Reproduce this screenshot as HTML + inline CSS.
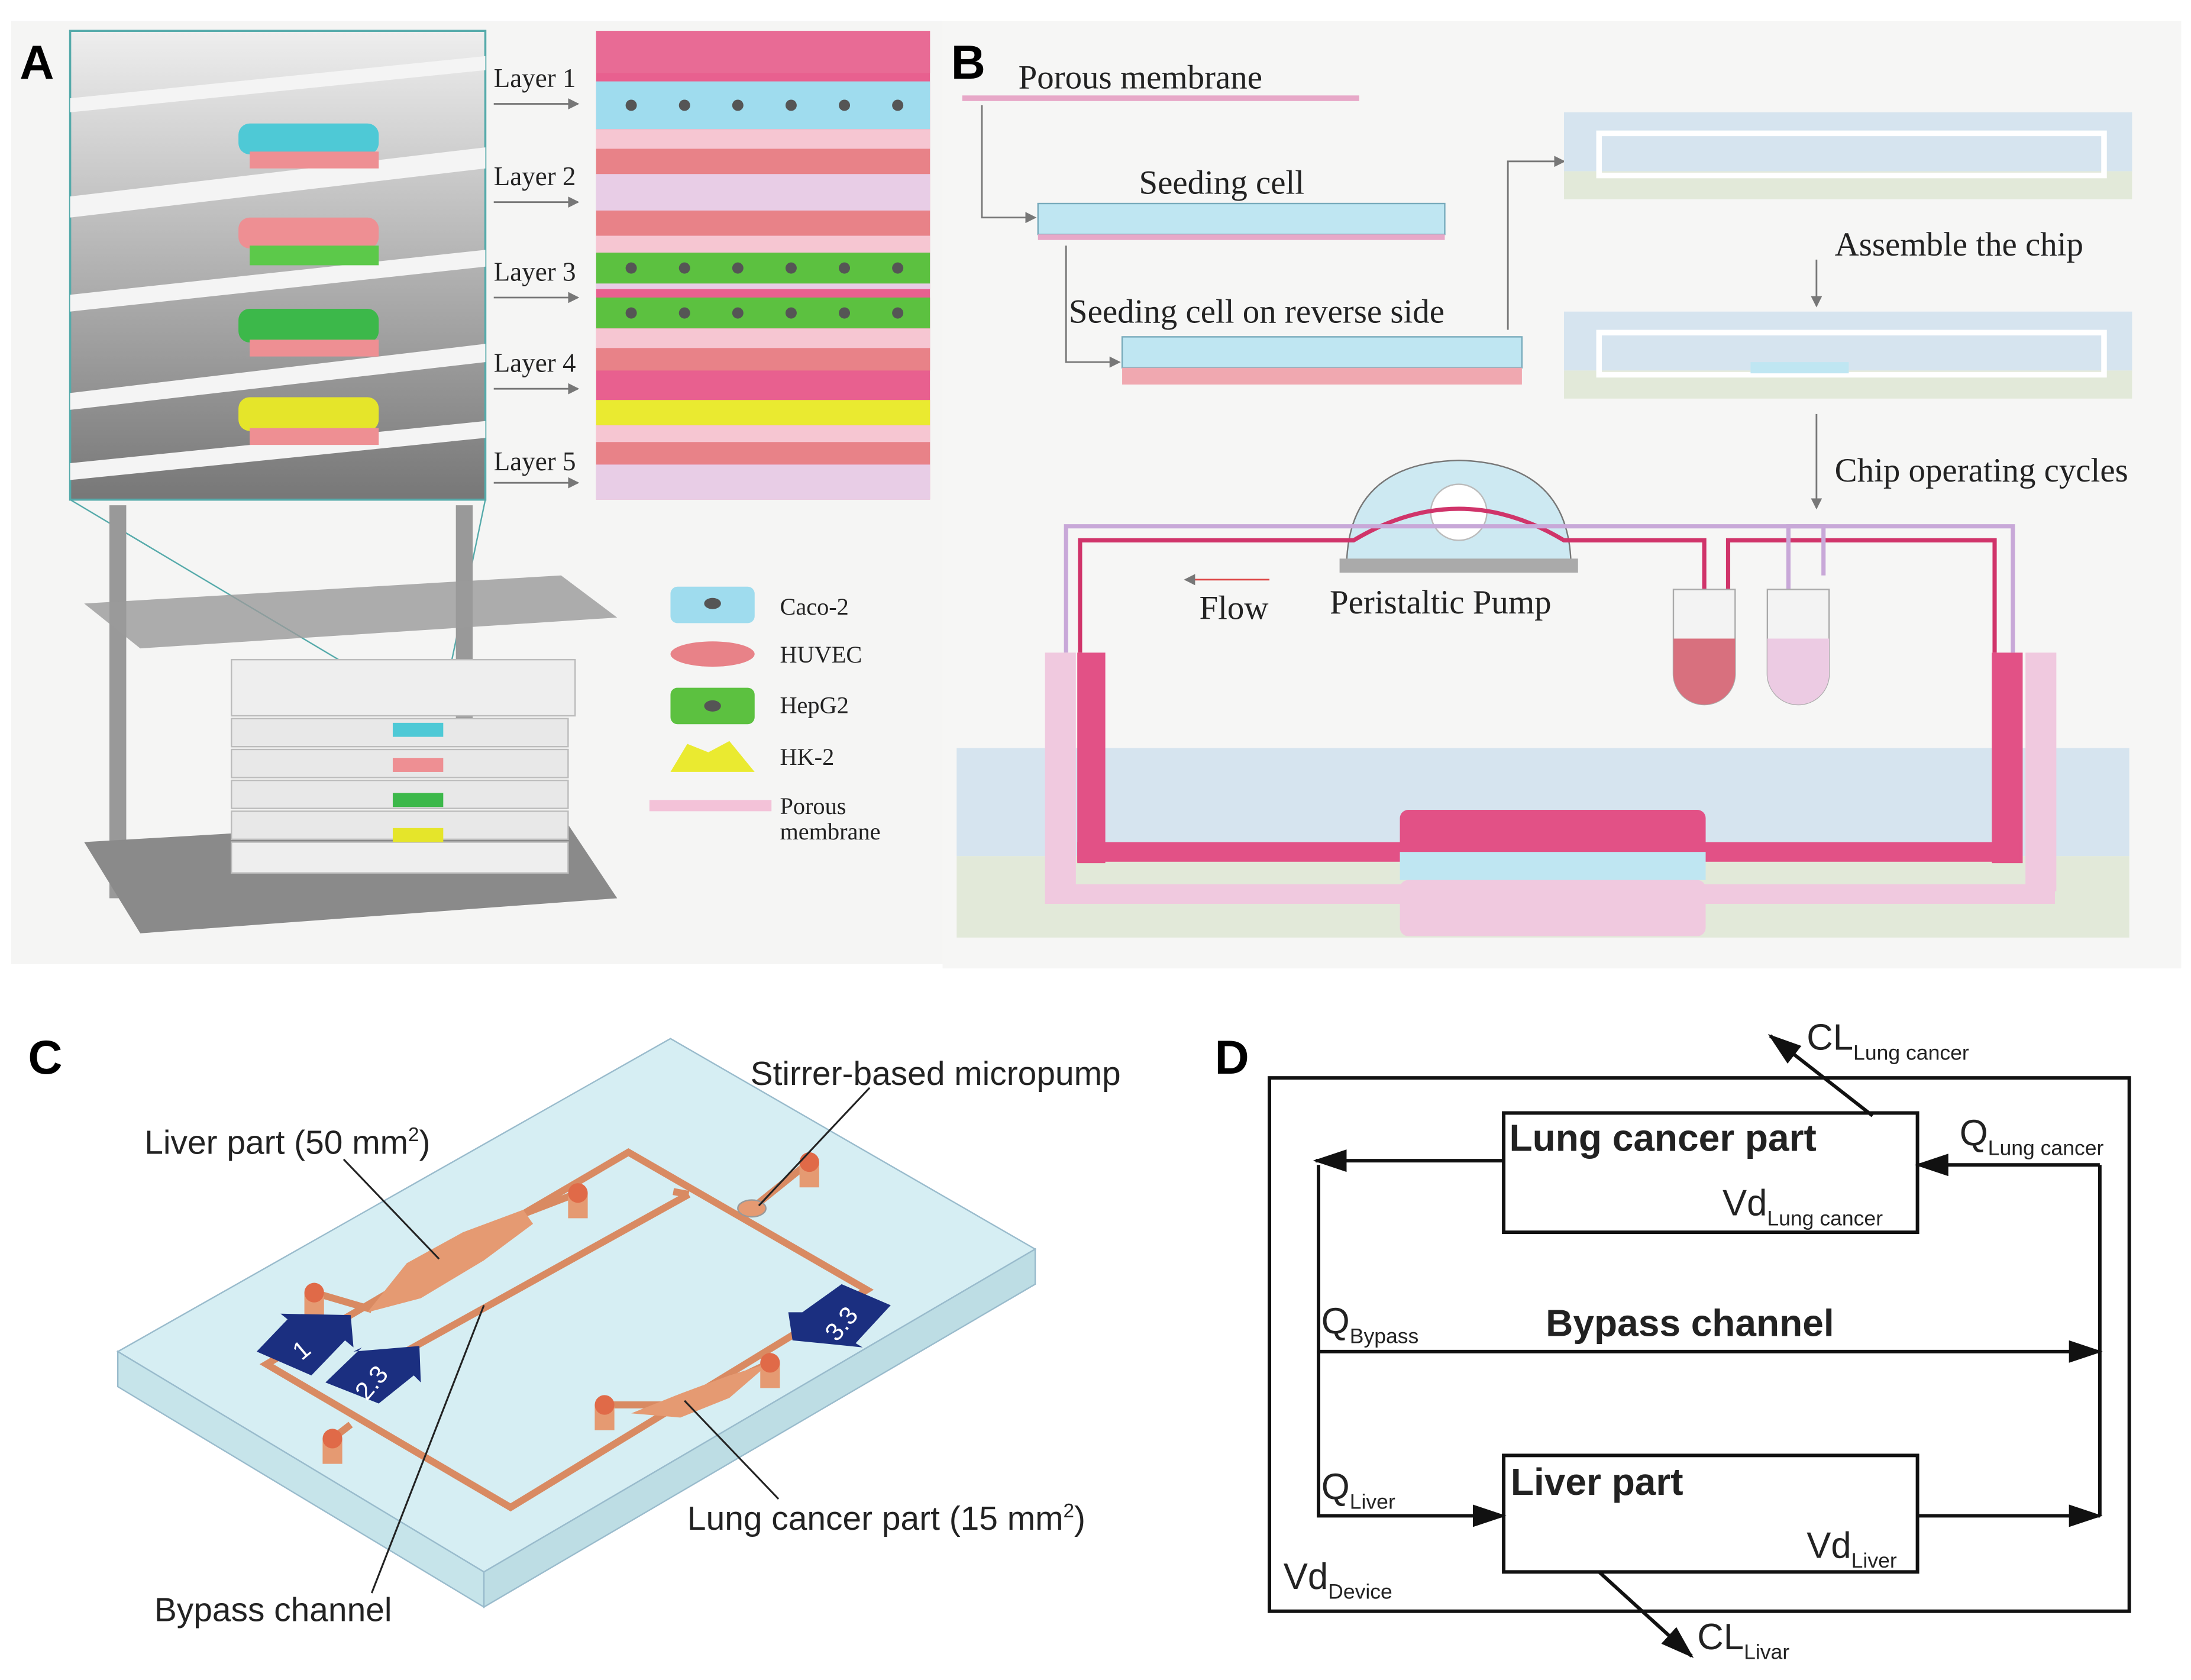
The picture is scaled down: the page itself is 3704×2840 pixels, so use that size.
<!DOCTYPE html>
<html><head><meta charset="utf-8"><style>
html,body{margin:0;padding:0;background:#fff;}
svg{display:block;}
.t{font-family:"Liberation Serif",serif;fill:#222;}
.s{font-family:"Liberation Sans",sans-serif;fill:#222;}
</style></head><body>
<svg width="3704" height="2840" viewBox="0 0 1562 1197" preserveAspectRatio="none" xmlns="http://www.w3.org/2000/svg">
<defs>
<marker id="ah" markerWidth="8" markerHeight="8" refX="7" refY="4" orient="auto" markerUnits="userSpaceOnUse"><path d="M0,0 L8,4 L0,8 z" fill="#777"/></marker>
<marker id="bh" markerWidth="24" markerHeight="16" refX="22" refY="8" orient="auto" markerUnits="userSpaceOnUse"><path d="M0,0 L24,8 L0,16 z" fill="#111"/></marker>
<linearGradient id="gr" x1="0" y1="0" x2="0" y2="1"><stop offset="0" stop-color="#eee"/><stop offset="1" stop-color="#777"/></linearGradient>
</defs>
<rect width="1562" height="1197" fill="#fff"/>
<!-- Panel A -->
<rect x="8" y="15" width="664" height="672" fill="#f5f5f4"/>
<text x="14" y="56" font-family="Liberation Sans" font-weight="bold" font-size="34" fill="#000">A</text>
<rect x="50" y="22" width="296" height="334" fill="url(#gr)" stroke="#5aa" stroke-width="1.5"/>
<g fill="#f4f4f4">
<polygon points="50,70 346,40 346,50 50,80"/>
<polygon points="50,140 346,105 346,120 50,155"/>
<polygon points="50,210 346,178 346,190 50,222"/>
<polygon points="50,280 346,245 346,258 50,292"/>
<polygon points="50,330 346,300 346,312 50,342"/>
</g>
<rect x="170" y="88" width="100" height="22" rx="8" fill="#4ec9d6"/><rect x="178" y="108" width="92" height="12" fill="#ee8f93"/>
<rect x="170" y="155" width="100" height="22" rx="8" fill="#ee8f93"/><rect x="178" y="175" width="92" height="14" fill="#5cc94a"/>
<rect x="170" y="220" width="100" height="24" rx="8" fill="#3cb84a"/><rect x="178" y="242" width="92" height="12" fill="#ee8f93"/>
<rect x="170" y="283" width="100" height="24" rx="8" fill="#e5e52a"/><rect x="178" y="305" width="92" height="12" fill="#ee8f93"/>
<g class="t" font-size="19">
<text x="352" y="62">Layer 1</text><text x="352" y="132">Layer 2</text><text x="352" y="200">Layer 3</text><text x="352" y="265">Layer 4</text><text x="352" y="335">Layer 5</text>
</g>
<g stroke="#777" stroke-width="1.2" marker-end="url(#ah)">
<line x1="352" y1="74" x2="412" y2="74"/><line x1="352" y1="144" x2="412" y2="144"/><line x1="352" y1="212" x2="412" y2="212"/><line x1="352" y1="277" x2="412" y2="277"/><line x1="352" y1="344" x2="412" y2="344"/>
</g>
<rect x="425" y="22" width="238" height="334" fill="#e8608f"/>
<rect x="425" y="22" width="238" height="30" fill="#e86b95"/>
<rect x="425" y="58" width="238" height="34" fill="#9fdcee"/>
<rect x="425" y="92" width="238" height="14" fill="#f6c6d2"/>
<rect x="425" y="106" width="238" height="100" fill="#e8cde6"/>
<rect x="425" y="106" width="238" height="18" fill="#e88288"/>
<rect x="425" y="150" width="238" height="18" fill="#e88288"/>
<rect x="425" y="168" width="238" height="12" fill="#f6c6d2"/>
<rect x="425" y="180" width="238" height="22" fill="#5cc140"/>
<rect x="425" y="212" width="238" height="22" fill="#5cc140"/>
<rect x="425" y="234" width="238" height="14" fill="#f6c6d2"/>
<rect x="425" y="248" width="238" height="16" fill="#e88288"/>
<rect x="425" y="285" width="238" height="18" fill="#eaea30"/>
<rect x="425" y="303" width="238" height="12" fill="#f6c6d2"/>
<rect x="425" y="315" width="238" height="16" fill="#e88288"/>
<rect x="425" y="331" width="238" height="25" fill="#e8cde6"/>
<g fill="#555">
<circle cx="450" cy="75" r="4"/><circle cx="488" cy="75" r="4"/><circle cx="526" cy="75" r="4"/><circle cx="564" cy="75" r="4"/><circle cx="602" cy="75" r="4"/><circle cx="640" cy="75" r="4"/>
<circle cx="450" cy="191" r="4"/><circle cx="488" cy="191" r="4"/><circle cx="526" cy="191" r="4"/><circle cx="564" cy="191" r="4"/><circle cx="602" cy="191" r="4"/><circle cx="640" cy="191" r="4"/>
<circle cx="450" cy="223" r="4"/><circle cx="488" cy="223" r="4"/><circle cx="526" cy="223" r="4"/><circle cx="564" cy="223" r="4"/><circle cx="602" cy="223" r="4"/><circle cx="640" cy="223" r="4"/>
</g>
<!-- stack device -->
<line x1="50" y1="356" x2="275" y2="490" stroke="#5aa"/><line x1="346" y1="356" x2="318" y2="490" stroke="#5aa"/>
<rect x="78" y="360" width="12" height="280" fill="#999"/><rect x="325" y="360" width="12" height="160" fill="#999"/>
<polygon points="60,430 400,410 440,440 100,462" fill="#9a9a9a" opacity="0.8"/>
<polygon points="60,600 400,580 440,640 100,665" fill="#8a8a8a"/>
<rect x="165" y="470" width="245" height="40" fill="#eee" stroke="#bbb"/>
<rect x="165" y="512" width="240" height="20" fill="#e8e8e8" stroke="#bbb"/>
<rect x="165" y="534" width="240" height="20" fill="#e8e8e8" stroke="#bbb"/>
<rect x="165" y="556" width="240" height="20" fill="#e8e8e8" stroke="#bbb"/>
<rect x="165" y="578" width="240" height="20" fill="#e8e8e8" stroke="#bbb"/>
<rect x="165" y="600" width="240" height="22" fill="#eee" stroke="#bbb"/>
<rect x="280" y="515" width="36" height="10" fill="#4ec9d6"/><rect x="280" y="540" width="36" height="10" fill="#ee8f93"/><rect x="280" y="565" width="36" height="10" fill="#3cb84a"/><rect x="280" y="590" width="36" height="10" fill="#e5e52a"/>
<!-- legend -->
<rect x="478" y="418" width="60" height="26" rx="5" fill="#9fdcee"/><ellipse cx="508" cy="430" rx="6" ry="4" fill="#555"/>
<ellipse cx="508" cy="466" rx="30" ry="9" fill="#e88288"/>
<rect x="478" y="490" width="60" height="26" rx="5" fill="#5cc140"/><ellipse cx="508" cy="503" rx="6" ry="4" fill="#555"/>
<path d="M478,550 L490,530 L505,536 L520,528 L538,550 Z" fill="#eaea30"/>
<rect x="463" y="570" width="87" height="8" fill="#f3c2d8"/>
<g class="t" font-size="17"><text x="556" y="438">Caco-2</text><text x="556" y="472">HUVEC</text><text x="556" y="508">HepG2</text><text x="556" y="545">HK-2</text><text x="556" y="580">Porous</text><text x="556" y="598">membrane</text></g>
<!-- Panel B -->
<rect x="672" y="15" width="883" height="675" fill="#f6f6f5"/>
<text x="678" y="56" font-family="Liberation Sans" font-weight="bold" font-size="34" fill="#000">B</text>
<g class="t" font-size="24">
<text x="726" y="63">Porous membrane</text>
<text x="812" y="138">Seeding cell</text>
<text x="762" y="230">Seeding cell on reverse side</text>
<text x="1308" y="182">Assemble the chip</text>
<text x="1308" y="343">Chip operating cycles</text>
<text x="855" y="441">Flow</text>
<text x="948" y="437">Peristaltic Pump</text>
<text x="1052" y="601">Top layer</text>
<text x="1045" y="661">Bottom layer</text>
</g>
<rect x="686" y="68" width="283" height="4" fill="#e7a8c8"/>
<rect x="740" y="145" width="290" height="22" fill="#bfe6f2" stroke="#7ab"/>
<rect x="740" y="167" width="290" height="4" fill="#e7a8c8"/>
<rect x="800" y="240" width="285" height="22" fill="#bfe6f2" stroke="#7ab"/>
<rect x="800" y="262" width="285" height="12" fill="#f0a8b0"/>
<g stroke="#777" fill="none" stroke-width="1.2" marker-end="url(#ah)">
<path d="M700,75 V155 H738"/><path d="M760,175 V258 H798"/><path d="M1075,235 V115 H1115"/>
<line x1="1295" y1="185" x2="1295" y2="218"/><line x1="1295" y1="295" x2="1295" y2="362"/>
<line x1="905" y1="413" x2="845" y2="413" stroke="#d44"/>
</g>
<rect x="1115" y="80" width="405" height="42" fill="#d6e4ef"/><rect x="1115" y="122" width="405" height="20" fill="#e2e9d9"/>
<rect x="1140" y="95" width="360" height="30" fill="none" stroke="#fff" stroke-width="4"/>
<rect x="1115" y="222" width="405" height="42" fill="#d6e4ef"/><rect x="1115" y="264" width="405" height="20" fill="#e2e9d9"/>
<rect x="1140" y="237" width="360" height="30" fill="none" stroke="#fff" stroke-width="4"/>
<rect x="1248" y="258" width="70" height="8" fill="#bfe6f2"/>
<rect x="682" y="533" width="836" height="77" fill="#d6e4ef"/><rect x="682" y="610" width="836" height="58" fill="#e2e9d9"/>
<path d="M960,405 Q960,330 1040,328 Q1120,330 1120,405 Z" fill="#cde9f2" stroke="#777"/>
<rect x="955" y="398" width="170" height="10" fill="#aaa"/>
<circle cx="1040" cy="365" r="20" fill="#fff" stroke="#bbb"/>
<g fill="none" stroke-width="3">
<path d="M770,465 V385 H965 Q1040,340 1115,385 H1215 V420" stroke="#d0346a"/>
<path d="M1232,420 V385 H1422 V465" stroke="#d0346a"/>
<path d="M760,465 V375 H1300 V410" stroke="#c8a8d8"/>
<path d="M1275,420 V375 H1435 V465" stroke="#c8a8d8"/>
</g>
<path d="M1193,420 h44 v60 a22,22 0 0 1 -44,0 z" fill="#f3f3f3" stroke="#aaa"/><path d="M1193,455 h44 v25 a22,22 0 0 1 -44,0 z" fill="#d8707e"/>
<path d="M1260,420 h44 v60 a22,22 0 0 1 -44,0 z" fill="#f3f3f3" stroke="#aaa"/><path d="M1260,455 h44 v25 a22,22 0 0 1 -44,0 z" fill="#eccbe3"/>
<rect x="745" y="465" width="22" height="170" fill="#f0c9df"/><rect x="768" y="465" width="20" height="150" fill="#e25186"/>
<rect x="1420" y="465" width="22" height="150" fill="#e25186"/><rect x="1444" y="465" width="22" height="170" fill="#f0c9df"/>
<rect x="768" y="600" width="672" height="14" fill="#e25186"/>
<rect x="745" y="630" width="720" height="14" fill="#f0c9df"/>
<rect x="998" y="577" width="218" height="30" rx="6" fill="#e25186"/>
<rect x="998" y="607" width="218" height="20" fill="#bfe6f2"/>
<rect x="998" y="627" width="218" height="40" rx="6" fill="#f0c9df"/>
<!-- Panel C -->
<text x="20" y="765" font-family="Liberation Sans" font-weight="bold" font-size="34" fill="#000">C</text>
<polygon points="84,963 478,740 738,890 345,1120" fill="#d6eef3" stroke="#9bc"/>
<polygon points="84,963 345,1120 345,1145 84,988" fill="#c6e4ea" stroke="#9bc"/>
<polygon points="345,1120 738,890 738,915 345,1145" fill="#bddde4" stroke="#9bc"/>
<g stroke="#d98a62" stroke-width="5" fill="none" stroke-linejoin="miter">
<polygon points="190,972 448,821 618,919 364,1074"/>
<polyline points="291,962 491,851"/>
<line x1="480" y1="849" x2="491" y2="851"/>
<polyline points="224,921 265,933"/>
<polyline points="373,865 412,850"/>
<polyline points="577,828 536,861"/>
<polyline points="237,1025 250,1015"/>
<polyline points="431,1001 485,1001 549,971"/>
</g>
<polygon points="262,935 290,900 330,878 373,862 380,872 345,898 300,925" fill="#e59a72"/>
<polygon points="450,1007 485,993 520,980 549,971 520,996 485,1010" fill="#e59a72"/>
<ellipse cx="536" cy="861" rx="10" ry="6" fill="#e59a72" stroke="#999"/>
<g fill="#e59a72"><rect x="217" y="921" width="14" height="18"/><rect x="405" y="850" width="14" height="18"/><rect x="570" y="828" width="14" height="18"/><rect x="230" y="1025" width="14" height="18"/><rect x="424" y="1001" width="14" height="18"/><rect x="542" y="971" width="14" height="18"/></g>
<g fill="#e06a48"><circle cx="224" cy="921" r="7"/><circle cx="412" cy="850" r="7"/><circle cx="577" cy="828" r="7"/><circle cx="237" cy="1025" r="7"/><circle cx="431" cy="1001" r="7"/><circle cx="549" cy="971" r="7"/></g>
<polygon points="183,963 205,940 200,936 250,937 252,960 246,955 222,980" fill="#1b2f80"/>
<text x="210" y="968" font-family="Liberation Sans" font-size="18" fill="#fff" transform="rotate(-40 215 962)">1</text>
<polygon points="232,985 258,960 252,963 299,959 300,985 295,980 270,1000" fill="#1b2f80"/>
<text x="250" y="990" font-family="Liberation Sans" font-size="18" fill="#fff" transform="rotate(-50 265 982)">2.3</text>
<polygon points="635,930 610,957 615,960 565,955 562,935 572,935 600,915" fill="#1b2f80"/>
<text x="585" y="948" font-family="Liberation Sans" font-size="18" fill="#fff" transform="rotate(-50 600 940)">3.3</text>
<g stroke="#222" stroke-width="1.3">
<line x1="245" y1="826" x2="313" y2="897"/><line x1="620" y1="775" x2="541" y2="859"/><line x1="345" y1="930" x2="265" y2="1135"/><line x1="555" y1="1068" x2="488" y2="998"/>
</g>
<g class="s" font-size="24">
<text x="535" y="773">Stirrer-based micropump</text>
<text x="103" y="822">Liver part (50 mm<tspan dy="-9" font-size="14">2</tspan><tspan dy="9">)</tspan></text>
<text x="490" y="1090">Lung cancer part (15 mm<tspan dy="-9" font-size="14">2</tspan><tspan dy="9">)</tspan></text>
<text x="110" y="1155">Bypass channel</text>
</g>
<!-- Panel D -->
<text x="866" y="765" font-family="Liberation Sans" font-weight="bold" font-size="34" fill="#000">D</text>
<rect x="905" y="768" width="613" height="380" fill="none" stroke="#111" stroke-width="2.5"/>
<rect x="1072" y="793" width="295" height="85" fill="#fff" stroke="#111" stroke-width="2.5"/>
<rect x="1072" y="1037" width="295" height="83" fill="#fff" stroke="#111" stroke-width="2.5"/>
<g stroke="#111" stroke-width="2.5" fill="none" marker-end="url(#bh)">
<line x1="1072" y1="827" x2="938" y2="827"/>
<path d="M1497,830 H1367" />
<path d="M940,830 V963 H1497"/>
<path d="M940,963 V1080 H1072"/>
<path d="M1367,1080 H1497"/>
<line x1="1335" y1="795" x2="1262" y2="738"/>
<line x1="1140" y1="1120" x2="1206" y2="1180"/>
</g>
<line x1="1497" y1="830" x2="1497" y2="1080" stroke="#111" stroke-width="2.5"/>
<g class="s" fill="#111">
<text x="1288" y="748" font-size="26">CL<tspan font-size="15" dy="7">Lung cancer</tspan></text>
<text x="1076" y="820" font-size="27" font-weight="bold">Lung cancer part</text>
<text x="1228" y="866" font-size="26">Vd<tspan font-size="15" dy="7">Lung cancer</tspan></text>
<text x="1397" y="816" font-size="26">Q<tspan font-size="15" dy="7">Lung cancer</tspan></text>
<text x="942" y="950" font-size="26">Q<tspan font-size="15" dy="7">Bypass</tspan></text>
<text x="1102" y="952" font-size="27" font-weight="bold">Bypass channel</text>
<text x="942" y="1068" font-size="26">Q<tspan font-size="15" dy="7">Liver</tspan></text>
<text x="1077" y="1065" font-size="27" font-weight="bold">Liver part</text>
<text x="1288" y="1110" font-size="26">Vd<tspan font-size="15" dy="7">Liver</tspan></text>
<text x="915" y="1132" font-size="26">Vd<tspan font-size="15" dy="7">Device</tspan></text>
<text x="1210" y="1175" font-size="26">CL<tspan font-size="15" dy="7">Livar</tspan></text>
</g>
</svg>
</body></html>
